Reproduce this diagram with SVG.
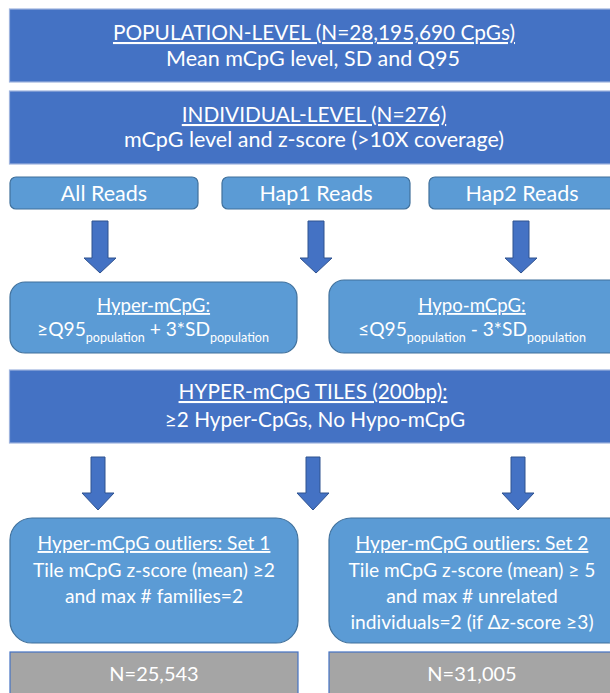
<svg xmlns="http://www.w3.org/2000/svg" width="610" height="693" viewBox="0 0 610 693">
<defs>
<style>
.dark{fill:#4472C4;stroke:#9DB3DE;stroke-width:1.2}
.light{fill:#5B9BD5;stroke:#41719C;stroke-width:1.2}
.gray{fill:#A5A5A5;stroke:#4472C4;stroke-width:1.2}
.arrow{fill:#4472C4;stroke:#2F528F;stroke-width:1}
text{font-family:Lato,"Liberation Sans",sans-serif;fill:#FFFFFF;text-anchor:middle;font-size:20px}
.u{text-decoration:underline}
.a{font-size:21.5px}
.b{font-size:20.8px}
.c{font-size:19.2px}
.d{font-size:18.6px}
.sub{font-size:12.5px}
</style>
</defs>
<rect x="0" y="0" width="610" height="693" fill="#FFFFFF"/>
<g id="population">
<rect class="dark" x="9.5" y="9" width="620" height="73"/>
<text x="314" y="40" class="u b">POPULATION-LEVEL (N=28,195,690 CpGs)</text>
<text x="313" y="66" class="a">Mean mCpG level, SD and Q95</text>
</g>
<g id="individual">
<rect class="dark" x="9.5" y="91" width="620" height="73"/>
<text x="314" y="122" class="u b">INDIVIDUAL-LEVEL (N=276)</text>
<text x="314" y="147" class="a">mCpG level and z-score (&gt;10X coverage)</text>
</g>
<g id="allreads">
<rect class="light" x="10" y="177" width="188" height="32" rx="6"/>
<text x="104" y="201" class="a">All Reads</text>
</g>
<g id="hap1">
<rect class="light" x="222" y="177" width="188" height="32" rx="6"/>
<text x="316" y="201" class="a">Hap1 Reads</text>
</g>
<g id="hap2">
<rect class="light" x="429" y="177" width="200" height="32" rx="6"/>
<text x="522" y="201" class="a">Hap2 Reads</text>
</g>
<g id="hyper">
<rect class="light" x="10" y="282" width="287" height="71" rx="15"/>
<text x="153.5" y="312" class="u d">Hyper-mCpG:</text>
<text x="153" y="336" class="c">≥Q95<tspan class="sub" dy="6">population</tspan><tspan dy="-6"> + 3*SD</tspan><tspan class="sub" dy="6">population</tspan></text>
</g>
<g id="hypo">
<rect class="light" x="329" y="280" width="300" height="73" rx="15"/>
<text x="472" y="312" class="u d">Hypo-mCpG:</text>
<text x="472" y="336" class="c">≤Q95<tspan class="sub" dy="6">population</tspan><tspan dy="-6"> - 3*SD</tspan><tspan class="sub" dy="6">population</tspan></text>
</g>
<g id="tiles">
<rect class="dark" x="9.5" y="370" width="620" height="73"/>
<text x="313" y="399" class="u b">HYPER-mCpG TILES (200bp):</text>
<text x="315" y="427" class="b">≥2 Hyper-CpGs, No Hypo-mCpG</text>
</g>
<g id="set1">
<rect class="light" x="10" y="518" width="288" height="125" rx="22"/>
<text x="154" y="550" class="u c">Hyper-mCpG outliers: Set 1</text>
<text x="154" y="577" class="c">Tile mCpG z-score (mean) ≥2</text>
<text x="154" y="603" class="c">and max # families=2</text>
</g>
<g id="set2">
<rect class="light" x="329" y="518" width="300" height="125" rx="22"/>
<text x="472" y="550" class="u c">Hyper-mCpG outliers: Set 2</text>
<text x="472" y="577" class="c">Tile mCpG z-score (mean) ≥ 5</text>
<text x="472" y="603" class="c">and max # unrelated</text>
<text x="472" y="629" class="c">individuals=2 (if Δz-score ≥3)</text>
</g>
<g id="n1">
<rect class="gray" x="10" y="652" width="288" height="60"/>
<text x="154" y="681">N=25,543</text>
</g>
<g id="n2">
<rect class="gray" x="329" y="652" width="300" height="60"/>
<text x="472" y="681">N=31,005</text>
</g>
<g id="connectors">
<path class="arrow" d="M92,221 H108 V258 H116 L100,273 L84,258 H92 Z"/>
<path class="arrow" d="M308,221 H324 V258 H332 L316,273 L300,258 H308 Z"/>
<path class="arrow" d="M513,221 H529 V258 H537 L521,273 L505,258 H513 Z"/>
<path class="arrow" d="M91,457 H105 V493 H114 L98,510 L82,493 H91 Z"/>
<path class="arrow" d="M306,457 H320 V493 H329 L313,510 L297,493 H306 Z"/>
<path class="arrow" d="M511,457 H525 V493 H534 L518,510 L502,493 H511 Z"/>
</g>
</svg>
